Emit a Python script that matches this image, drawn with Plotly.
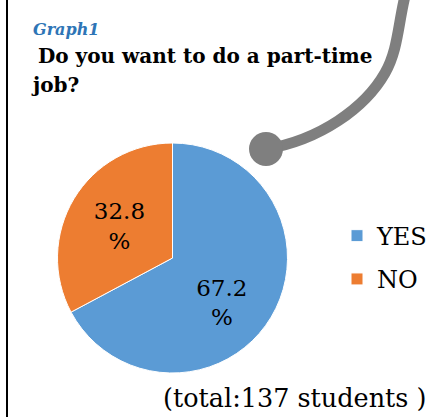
import plotly.graph_objects as go

# ---- data ----
categories = ["YES", "NO"]
percentages = [67.2, 32.8]
total_students = 137
colors = ["#5B9BD5", "#ED7D31"]

W, H = 447, 417
SERIF = "DejaVu Serif"

def px(x):
    return x / W

def py(y):
    return 1 - y / H

# slice labels: value on one line, "%" below (YES label sits lower in its slice)
labels_text = [f"{v}<br>%" for v in percentages]
labels_text[0] = "\u00a0<br>" + labels_text[0]

legend_names = [f"<span style='font-size:24px;baseline-shift:3px'>{c}</span>" for c in categories]

fig = go.Figure(
    go.Pie(
        labels=legend_names,
        values=percentages,
        text=labels_text,
        textinfo="text",
        textposition="inside",
        insidetextorientation="horizontal",
        textfont=dict(family=SERIF, size=23, color="black"),
        marker=dict(colors=colors, line=dict(color="white", width=1)),
        sort=False,
        direction="clockwise",
        rotation=0,
        hoverinfo="percent",
        domain=dict(x=[px(57.5), px(287.5)], y=[py(373), py(143)]),
    )
)

# decorative curved "string" and bead
curve = (
    f"M {px(405)},{py(-4)} "
    f"C {px(398)},{py(25)} {px(398)},{py(50)} {px(385)},{py(73)} "
    f"C {px(365)},{py(108)} {px(320)},{py(140)} {px(266)},{py(149)}"
)

shapes = [
    dict(type="line", xref="paper", yref="paper",
         x0=px(7), x1=px(7), y0=0, y1=1,
         line=dict(color="black", width=2)),
    dict(type="path", xref="paper", yref="paper", path=curve,
         line=dict(color="#7F7F7F", width=11)),
    dict(type="circle", xref="paper", yref="paper",
         x0=px(249), x1=px(283), y0=py(166), y1=py(132),
         fillcolor="#7F7F7F", line=dict(color="#7F7F7F", width=0)),
]

annotations = [
    dict(text="<b><i>Graph1</i></b>", xref="paper", yref="paper",
         x=px(31), y=py(18), xanchor="left", yanchor="top", showarrow=False,
         font=dict(family=SERIF, size=16, color="#2E75B6")),
    dict(text="<b>\u00a0Do you want to do a part-time</b>", xref="paper", yref="paper",
         x=px(29), y=py(42), xanchor="left", yanchor="top", showarrow=False,
         font=dict(family=SERIF, size=20, color="black")),
    dict(text="<b>job?</b>", xref="paper", yref="paper",
         x=px(29), y=py(71), xanchor="left", yanchor="top", showarrow=False,
         font=dict(family=SERIF, size=20, color="black")),
    dict(text=f"(total:{total_students} students )", xref="paper", yref="paper",
         x=px(429), y=py(398), xanchor="right", yanchor="middle", showarrow=False,
         font=dict(family=SERIF, size=25.5, color="black")),
]

fig.update_layout(
    width=W, height=H,
    margin=dict(l=0, r=0, t=0, b=0),
    paper_bgcolor="white",
    plot_bgcolor="white",
    showlegend=True,
    legend=dict(x=px(337), xanchor="left", y=py(209), yanchor="top",
                font=dict(family=SERIF, size=31, color="black"),
                bgcolor="rgba(0,0,0,0)"),
    shapes=shapes,
    annotations=annotations,
)

fig.write_html("out.html", config={"displayModeBar": False},
               post_script="document.body.style.margin='0';")
